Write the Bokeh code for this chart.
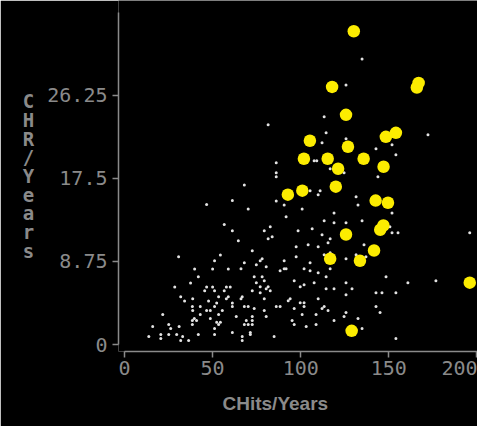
from bokeh.plotting import figure
from bokeh.models import Range1d, FixedTicker, Title
from bokeh.embed import file_html
from bokeh.resources import INLINE

# ---- data (CHits/Years vs CHR/Years) ----
white_x = [46.6, 61.2, 56.6, 61.2, 64.6, 30.7, 54.4, 51.1, 39.8, 50.0,
           58.9, 41.9, 37.5, 28.5, 46.6, 50.0, 57.8, 60.0, 45.5, 51.1,
           56.6, 31.9, 38.7, 53.4, 58.9, 57.8, 34.1, 47.7, 52.3, 61.2,
           38.5, 43.0, 51.1, 61.2, 38.7, 46.6, 48.7, 55.5, 21.7, 43.0,
           53.4, 63.4, 39.6, 38.5, 40.9, 48.7, 52.3, 54.4, 53.4, 25.1,
           31.0, 16.0, 26.2, 38.5, 51.1, 61.2, 20.6, 25.1, 29.6, 41.9,
           51.1, 13.8, 33.0, 20.6, 31.9, 36.4,
           68.0, 86.1, 90.6, 70.2, 100.8, 111.0, 109.9, 105.3, 131.4, 132.5,
           118.9, 91.7, 113.3, 118.9, 125.7, 79.3, 82.7, 98.5, 106.5, 112.1,
           116.7, 81.5, 83.8, 115.5, 104.2, 97.4, 109.9, 72.5, 97.4, 113.3,
           116.7, 131.4, 125.7, 78.1, 77.0, 90.6, 105.3, 68.0, 74.8, 80.4,
           101.9, 116.7, 90.6, 91.7, 88.3, 66.1, 109.9, 105.3, 73.6, 78.1,
           114.4, 96.3, 74.8, 79.3, 107.6, 125.7, 81.5, 80.4, 82.7, 77.0,
           99.7, 101.9, 72.5, 77.0, 114.4, 118.9, 129.1, 125.7, 66.8, 66.1,
           79.3, 109.9, 94.0, 92.9, 99.7, 101.9, 68.0, 70.2, 73.6, 86.1,
           88.3, 96.3, 101.9, 112.1, 113.3, 115.5, 79.3, 125.7, 72.5, 80.4,
           100.8, 108.7, 124.6, 132.5, 69.1, 72.5, 95.1, 118.9, 70.2, 68.0,
           72.5, 96.3, 103.1, 108.7, 71.4, 71.4, 66.8, 66.8, 84.9,
           151.8, 134.8, 150.6, 151.8, 155.2, 195.9, 135.9, 137.0, 148.4, 160.8,
           176.7, 142.7, 146.1, 154.0, 142.7, 145.0, 134.8, 154.0,
           113.3, 81.5, 114.4, 112.1, 86.1, 107.6, 109.1, 116.7, 86.1, 86.1,
           134.8, 125.7, 125.7, 142.7, 151.8, 154.0, 172.2, 124.6, 143.8]
white_y = [14.73, 15.15, 12.63, 11.97, 10.92, 9.24, 9.42, 8.82, 7.95, 7.95,
           7.95, 7.14, 6.48, 6.06, 6.06, 6.06, 6.06, 6.06, 5.67, 5.67,
           5.67, 5.04, 4.83, 5.04, 5.04, 4.83, 4.59, 4.59, 4.38, 4.38,
           3.99, 3.99, 3.99, 3.99, 3.57, 3.57, 3.57, 3.57, 3.15, 3.15,
           3.15, 2.94, 2.73, 2.52, 2.52, 2.73, 2.34, 2.34, 2.10, 2.10,
           1.89, 1.89, 1.68, 2.10, 1.68, 1.26, 1.05, 1.05, 1.05, 1.05,
           1.05, 0.84, 0.84, 0.63, 0.42, 0.42,
           16.8, 15.12, 14.7, 14.28, 14.28, 16.2, 15.78, 16.2, 15.57, 14.7,
           13.86, 13.44, 13.02, 12.81, 12.81, 11.97, 12.39, 11.97, 12.18, 11.55,
           11.13, 11.13, 11.34, 10.71, 10.5, 10.29, 10.29, 9.87, 9.24, 9.45,
           9.66, 9.45, 9.03, 9.03, 8.82, 8.82, 8.61, 8.61, 8.4, 8.19,
           7.98, 7.98, 7.98, 7.98, 7.77, 7.98, 7.56, 7.77, 7.14, 7.14,
           7.14, 6.72, 6.51, 6.72, 6.51, 6.51, 6.09, 5.88, 5.67, 6.09,
           6.09, 6.3, 5.67, 5.46, 5.88, 5.88, 5.88, 5.25, 5.04, 4.83,
           4.83, 4.83, 4.83, 4.62, 4.41, 4.41, 3.99, 3.99, 3.78, 3.99,
           3.99, 3.78, 3.99, 3.78, 3.99, 3.57, 3.57, 3.36, 2.94, 2.94,
           3.15, 3.15, 2.94, 2.73, 2.52, 2.52, 2.52, 2.52, 2.1, 2.1,
           2.1, 2.1, 1.89, 2.1, 1.26, 1.05, 0.84, 0.42, 0.84,
           13.86, 13.02, 12.39, 11.76, 11.76, 11.76, 10.5, 9.24, 7.14, 6.51,
           6.72, 5.46, 5.46, 5.46, 3.99, 3.36, 1.68, 0.63,
           23.97, 23.13, 22.29, 21.24, 19.14, 19.35, 19.35, 18.51, 18.09, 17.67,
           30.06, 27.33, 21.66, 20.61, 21.03, 19.98, 22.08, 18.09, 17.67]

yellow_x = [130.1, 117.8, 166.9, 165.9, 125.7, 105.2, 126.8, 148.3, 154.0, 101.8,
            115.3, 121.2, 135.7, 147.0, 119.9, 92.7, 100.9, 142.5, 149.5, 146.9,
            145.1, 125.7, 116.7, 133.6, 141.6, 128.9, 195.9]
yellow_y = [32.98, 27.12, 27.54, 27.06, 24.18, 21.45, 20.82, 21.87, 22.29, 19.56,
            19.56, 18.51, 19.56, 18.72, 16.62, 15.78, 16.20, 15.15, 14.93, 12.53,
            12.08, 11.58, 9.03, 8.82, 9.90, 1.44, 6.51]

x_ticks = [0, 50, 100, 150, 200]
y_ticks = [0, 8.75, 17.5, 26.25]
y_tick_labels = ["0", "8.75", "17.5", "26.25"]
x_label = "CHits/Years"
y_label = "CHR/Years"

GRAY = "#8a8a8a"

p = figure(width=477, height=426, output_backend="svg", toolbar_location=None,
           x_range=Range1d(-3.4, 200.3), y_range=Range1d(-0.735, 36.22),
           min_border_left=118, min_border_right=0, min_border_top=0,
           min_border_bottom=74)
p.background_fill_color = "black"
p.border_fill_color = "black"
p.outline_line_color = None
p.grid.visible = False

for ax in (p.xaxis[0], p.yaxis[0]):
    ax.axis_line_color = GRAY
    ax.axis_line_width = 1.5
    ax.major_tick_line_color = GRAY
    ax.major_tick_line_width = 1.5
    ax.minor_tick_line_color = None
    ax.major_tick_in = 0
    ax.major_tick_out = 6
    ax.major_label_text_color = GRAY
    ax.major_label_text_font = "DejaVu Sans Mono"
    ax.major_label_text_font_size = "20px"

p.xaxis[0].ticker = FixedTicker(ticks=x_ticks)
p.xaxis[0].bounds = (0, 220)
p.xaxis[0].major_label_standoff = 3

yax = p.yaxis[0]
yax.ticker = FixedTicker(ticks=y_ticks)
yax.bounds = (0, 35)
yax.major_label_standoff = 5
yax.major_label_overrides = {t: s for t, s in zip(y_ticks, y_tick_labels)}
yax.axis_label = "\n".join(y_label)
yax.axis_label_orientation = "horizontal"
yax.axis_label_standoff = 10
yax.axis_label_text_font = "DejaVu Sans Mono"
yax.axis_label_text_font_style = "bold"
yax.axis_label_text_font_size = "19px"
yax.axis_label_text_line_height = 0.85
yax.axis_label_text_color = GRAY

p.scatter(white_x, white_y, marker="circle", size=3, fill_color="#e2e2e2",
          line_color=None)
p.scatter(yellow_x, yellow_y, marker="circle", size=12.5, fill_color="#fcec00",
          line_color=None)

p.add_layout(Title(text=x_label, align="left", offset=104, standoff=26,
                   text_font="Liberation Sans", text_font_style="bold",
                   text_font_size="19px", text_color=GRAY), "below")

open("out.html", "w").write(file_html(p, INLINE))
